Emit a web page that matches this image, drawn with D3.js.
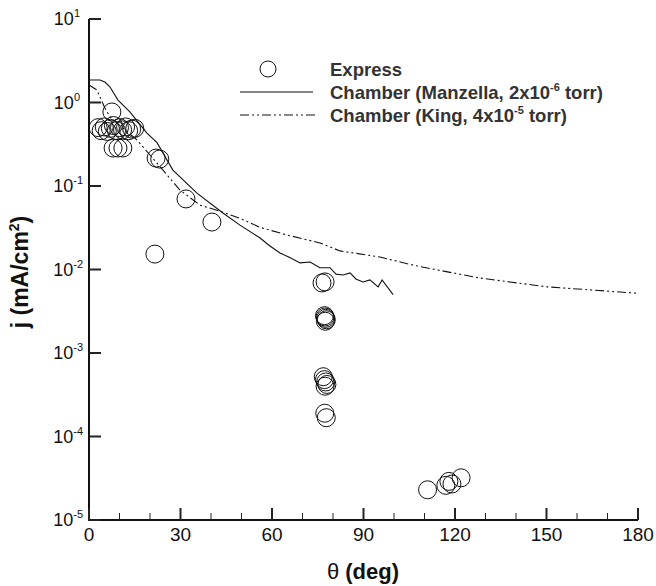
<!DOCTYPE html>
<html><head><meta charset="utf-8">
<script src="https://cdn.jsdelivr.net/npm/d3@7"></script>
<style>body{margin:0;background:#fff}svg{display:block}text{font-family:"Liberation Sans",Arial,Helvetica,sans-serif}</style>
</head><body>
<svg id="c" width="656" height="586"></svg>
<script>
// Express measurements (deg, mA/cm^2)
const expressTheta = [3,4,5,6,7,8,9,10,11,12,13,14,15, 7.5, 7.9,9.5,11.1, 22.0,23.2, 31.8, 40.3, 21.6,
  76.4,77.4, 77.2,77.4,77.6,77.8,77.5, 76.8,77.2,77.6,78.0,77.4, 77.3,77.8,
  111,117,118,119,122];
const expressJ = [0.50,0.46,0.51,0.45,0.49,0.53,0.46,0.50,0.47,0.51,0.46,0.48,0.49, 0.77, 0.285,0.285,0.285, 0.216,0.21, 0.070, 0.037, 0.0153,
  0.0069,0.0071, 0.0028,0.0027,0.0026,0.0025,0.0024, 0.00052,0.00048,0.00045,0.00042,0.00040, 0.00019,0.000168,
  0.000023,0.000026,0.000029,0.000027,0.000032];
// Chamber (Manzella)
const manzellaTheta = [0,3.6,5.2,6.9,9.5,13.4,19.0,22.3,27.5,35.4,43.9,49.5,56.1,59,62.6,66,69.2,72.5,75.7,79.0,81,83.3,85.6,87.5,89.8,92.1,94.8,96.1,99.7];
const manzellaJ = [1.86,1.86,1.76,1.53,1.07,0.77,0.43,0.33,0.155,0.082,0.0475,0.034,0.0238,0.0195,0.0158,0.0138,0.012,0.0123,0.0105,0.0105,0.0088,0.0086,0.0091,0.0077,0.0071,0.0075,0.0062,0.0075,0.005];
// Chamber (King)
const kingTheta = [0,2.6,3.6,5.2,6.9,15.7,22.3,29.8,36.4,42.9,49.5,56.1,64.9,75.7,82.3,95.4,106.2,114.1,128.2,150.2,179.7];
const kingJ = [1.62,1.41,1.16,0.86,0.67,0.356,0.188,0.0895,0.059,0.050,0.041,0.032,0.0259,0.0208,0.0167,0.0141,0.0113,0.0099,0.0079,0.0062,0.0052];
const xTicks = [0,30,60,90,120,150,180];
const yExponents = [1,0,-1,-2,-3,-4,-5];
const legendLabels = ["Express","Chamber (Manzella, 2x10","Chamber (King, 4x10"];

const svg = d3.select("#c");
const x = d3.scaleLinear().domain([0,180]).range([89,638]);
const y = d3.scaleLog().domain([1e-5,10]).range([520,19]);

// axes lines
svg.append("line").attr("x1",89).attr("x2",89).attr("y1",y(10)).attr("y2",y(1e-5)+1).attr("stroke","#111").attr("stroke-width",2);
svg.append("line").attr("x1",88).attr("x2",x(180)).attr("y1",520).attr("y2",520).attr("stroke","#111").attr("stroke-width",2);

// x ticks
const minorX = d3.range(0,181,10);
svg.selectAll(".xt").data(minorX).enter().append("line")
  .attr("x1",d=>x(d)).attr("x2",d=>x(d)).attr("y1",520)
  .attr("y2",d=>d%30===0?508:513).attr("stroke","#222").attr("stroke-width",d=>d%30===0?2:1);
svg.selectAll(".xl").data(xTicks).enter().append("text")
  .attr("x",d=>x(d)).attr("y",541).attr("text-anchor","middle").attr("font-size",19).attr("fill","#111").text(d=>d);

// y ticks
svg.selectAll(".yt").data(yExponents).enter().append("line")
  .attr("x1",89).attr("x2",101).attr("y1",d=>y(Math.pow(10,d))).attr("y2",d=>y(Math.pow(10,d)))
  .attr("stroke","#222").attr("stroke-width",2);
const yl = svg.selectAll(".yl").data(yExponents).enter().append("text")
  .attr("x",d=> d<0?83:80).attr("y",d=>y(Math.pow(10,d))+6).attr("text-anchor","end").attr("font-size",18).attr("fill","#111");
yl.append("tspan").text("10");
yl.append("tspan").attr("dy",-8).attr("font-size",11).text(d=>d);

// titles
svg.append("text").attr("x",363).attr("y",579).attr("text-anchor","middle").attr("font-size",22).attr("fill","#111")
  .html('θ <tspan font-weight="bold">(deg)</tspan>');
const yt = svg.append("text").attr("transform","translate(28,272) rotate(-90)").attr("text-anchor","middle")
  .attr("font-size",23).attr("font-weight","bold").attr("fill","#111");
yt.append("tspan").text("j (mA/cm");
yt.append("tspan").attr("dy",-9).attr("font-size",14).text("2");
yt.append("tspan").attr("dy",9).text(")");

// lines
const line = d3.line().x(d=>x(d[0])).y(d=>y(d[1]));
svg.append("path").datum(d3.zip(manzellaTheta,manzellaJ)).attr("d",line)
  .attr("fill","none").attr("stroke","#111").attr("stroke-width",1.1);
svg.append("path").datum(d3.zip(kingTheta,kingJ)).attr("d",line)
  .attr("fill","none").attr("stroke","#111").attr("stroke-width",1.1).attr("stroke-dasharray","9,3,2,3,2,3");

// circles
svg.selectAll(".pt").data(d3.zip(expressTheta,expressJ)).enter().append("circle")
  .attr("cx",d=>x(d[0])).attr("cy",d=>y(d[1])).attr("r",9)
  .attr("fill","none").attr("stroke","#111").attr("stroke-width",1);

// legend
svg.append("circle").attr("cx",268).attr("cy",69).attr("r",8).attr("fill","none").attr("stroke","#111").attr("stroke-width",1);
svg.append("line").attr("x1",240).attr("x2",313).attr("y1",92).attr("y2",92).attr("stroke","#111").attr("stroke-width",1.1);
svg.append("line").attr("x1",240).attr("x2",316).attr("y1",115).attr("y2",115).attr("stroke","#111").attr("stroke-width",1.1).attr("stroke-dasharray","9,3,2,3,2,3");
const lg = svg.append("g").attr("font-size",18.5).attr("font-weight","bold").attr("fill","#333");
lg.append("text").attr("x",330).attr("y",76).text(legendLabels[0]);
const t1 = lg.append("text").attr("x",330).attr("y",99);
t1.append("tspan").text(legendLabels[1]);
t1.append("tspan").attr("dy",-8).attr("font-size",11).text("-6");
t1.append("tspan").attr("dy",8).text(" torr)");
const t2 = lg.append("text").attr("x",330).attr("y",122);
t2.append("tspan").text(legendLabels[2]);
t2.append("tspan").attr("dy",-8).attr("font-size",11).text("-5");
t2.append("tspan").attr("dy",8).text(" torr)");
</script>
</body></html>
